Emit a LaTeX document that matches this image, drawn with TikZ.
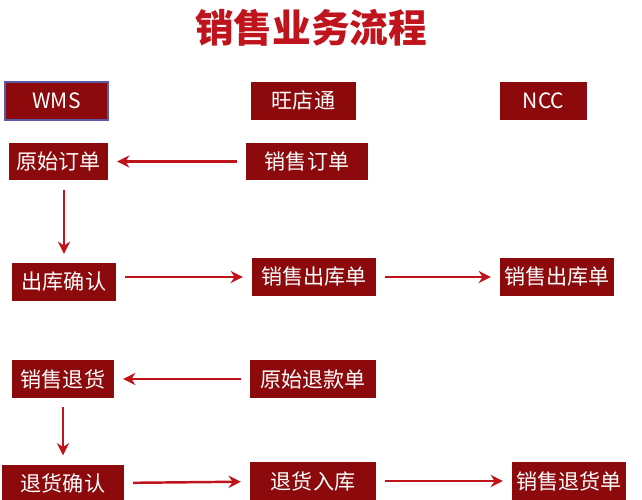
\documentclass[tikz,border=0pt]{standalone}
\usepackage{fontspec}
\setmainfont{Noto Sans CJK SC}
\usetikzlibrary{arrows.meta}
\definecolor{boxred}{HTML}{8C0A0C}
\definecolor{linered}{HTML}{C0141C}
\definecolor{titlered}{HTML}{C0141C}

\begin{document}
\begin{tikzpicture}[x=0.02cm,y=-0.02cm,
    box/.style={fill=boxred,text=white,font=\fontsize{12}{14}\selectfont,inner sep=0pt,
        minimum height=0.76cm},
    flow/.style={draw=linered,line width=1.4pt,-{Stealth[length=7pt,width=7pt]},shorten >=5pt,shorten <=5pt}]
        \useasboundingbox (0,0) rectangle (642,500);
        \node[font=\bfseries\fontsize{22}{26}\selectfont,text=titlered] (title) at (311,28) {销售业务流程};

        % headers
        \node[box,minimum width=2.06cm,draw=gray!70!blue,line width=0.8pt] (wms) at (56.5,101) {WMS};
        \node[box,minimum width=2.1cm] (wdt) at (303.5,101) {旺店通};
        \node[box,minimum width=1.74cm] (ncc) at (543.5,101) {NCC};

        % sales
        \node[box,minimum width=1.98cm] (yddd) at (58.5,161.5) {原始订单};
        \node[box,minimum width=2.44cm] (xsdd) at (307,161.5) {销售订单};
        \node[box,minimum width=2.08cm] (ckqr) at (64,282) {出库确认};
        \node[box,minimum width=2.48cm] (xsck) at (314,277) {销售出库单};
        \node[box,minimum width=2.28cm] (nccck) at (557,277) {销售出库单};

        % returns
        \node[box,minimum width=2.04cm] (xsth) at (63,379) {销售退货};
        \node[box,minimum width=2.52cm] (ytkd) at (313,379) {原始退款单};
        \node[box,minimum width=2.44cm] (thqr) at (63,483.5) {退货确认};
        \node[box,minimum width=2.52cm] (thrk) at (313,481) {退货入库};
        \node[box,minimum width=2.28cm] (nccth) at (569,481) {销售退货单};

        \draw[flow] (xsdd) -- (yddd);
        \draw[flow] (ckqr.north |- yddd.south) -- (ckqr.north);
        \draw[flow] (ckqr.east |- xsck) -- (xsck);
        \draw[flow] (xsck) -- (nccck);
        \draw[flow] (ytkd) -- (xsth);
        \draw[flow] (xsth.south) -- (xsth.south |- thqr.north);
        \draw[flow] (thqr) -- (thrk);
        \draw[flow] (thrk) -- (nccth);
    \end{tikzpicture}
\end{document}
